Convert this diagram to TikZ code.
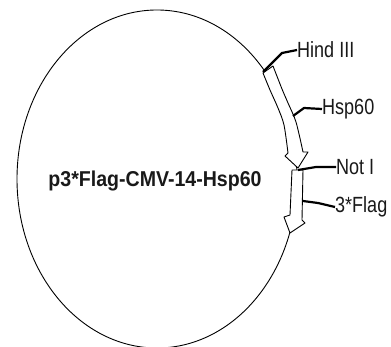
\documentclass[tikz,border=0pt]{standalone}
\usepackage{fontspec}
\setmainfont{Liberation Sans}
\begin{document}
\begin{tikzpicture}[x=1pt,y=-1pt,
  outline/.style={draw=black,line width=0.9pt,line join=round},
  leader/.style={draw=black,line width=2.2pt},
  lbl/.style={inner sep=0pt,anchor=west,font=\fontsize{22}{24}\selectfont,xscale=0.82,text=black!90}]
\useasboundingbox (0,0) rectangle (391,347);
% plasmid circle
\draw[outline] (157,179) ellipse [x radius=140pt, y radius=169pt];
% arrow 1 (Hsp60)
\draw[outline,fill=white] plot[smooth] coordinates {(263,73) (270,90) (278,108) (284,125) (288,153)}
  -- (285,156) -- (298,168) -- (308,152)
  -- plot[smooth] coordinates {(303,152) (296,122) (288,103) (282,89) (273,66)} -- cycle;
% arrow 2 (3*Flag)
\draw[outline,fill=white] (292,170) -- (290,215) -- (284,217) -- (290,233) -- (305,223) -- (302,220) -- (303,170) -- cycle;
% centre label
\node[inner sep=0pt,anchor=base,font=\bfseries\fontsize{21.5}{23}\selectfont,xscale=0.91,text=black!90] (name) at (155,187) {p3*Flag-CMV-14-Hsp60};
% labels
\node[lbl] (hind) at (297,50) {Hind III};
\node[lbl] (hsp) at (322,109) {Hsp60};
\node[lbl] (noti) at (336,167) {Not I};
\node[lbl] (flag) at (335,207) {3*Flag};
% leader start points
\coordinate (h1) at (263,72);
\coordinate (h2) at (282,53);
\coordinate (s1) at (293,116);
\coordinate (s2) at (304,108);
\coordinate (n1) at (298,170);
\coordinate (n2) at (316,167);
\coordinate (f1) at (303,201);
\coordinate (f2) at (318,203);
\draw[leader] (h1) -- (h2) -- (hind.west);
\draw[leader] (s1) -- (s2) -- (hsp.west);
\draw[leader] (n1) -- (n2) -- (noti.west);
\draw[leader] (f1) -- (f2) -- (flag.west);
\end{tikzpicture}
\end{document}
